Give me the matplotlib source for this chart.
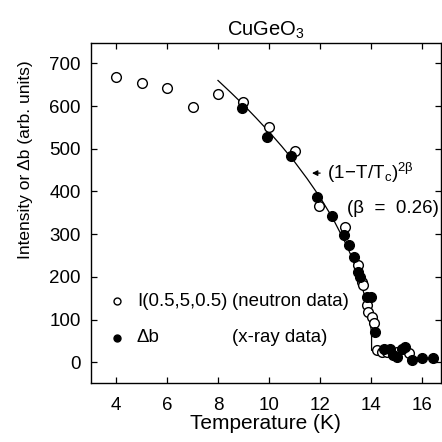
import matplotlib
matplotlib.use("Agg")
import matplotlib.pyplot as plt

plt.rcParams["font.family"] = ["Liberation Sans", "DejaVu Sans"]
plt.rcParams["mathtext.default"] = "regular"

# neutron data, I(0.5,5,0.5)  (open circles)
neutron_t = [4.0, 5.0, 6.0, 7.0, 8.0, 9.0, 10.0, 11.03, 11.97, 13.0, 13.49,
             13.65, 13.71, 13.84, 13.9, 14.04, 14.14, 14.24, 14.43, 14.63,
             15.02, 15.48]
neutron_i = [668, 654, 643, 597, 628, 609, 551, 494, 365, 317, 227,
             188, 180, 133, 118, 106, 91, 28, 24, 23,
             24, 21]

# x-ray data, delta b  (filled circles)
xray_t = [8.94, 9.92, 10.87, 11.9, 12.47, 12.96, 13.15, 13.35, 13.51, 13.58,
          13.84, 14.01, 14.17, 14.5, 14.76, 14.89, 15.02, 15.22, 15.35, 15.6,
          16.0, 16.46]
xray_db = [596, 528, 482, 387, 342, 298, 274, 247, 211, 200,
           153, 153, 71, 32, 32, 18, 12, 32, 36, 5,
           9, 9]

# power-law fit curve
fit_t = [8.0, 8.5, 9.0, 9.5, 10.0, 10.5, 11.0, 11.5, 12.0, 12.5, 13.0,
         13.3, 13.6, 13.8, 13.95, 14.03, 14.03, 14.35]
fit_v = [660, 632, 603, 572, 540, 506, 470, 430, 387, 338, 280,
         240, 189, 146, 100, 70, 28, 26]

fig = plt.figure(figsize=(4.42, 4.42), dpi=100)
ax = fig.add_axes([0.205, 0.134, 0.793, 0.769])

ax.plot(fit_t, fit_v, "-", color="black", lw=0.9, zorder=2)
ax.plot(neutron_t, neutron_i, "o", mfc="white", mec="black", mew=1.0,
        ms=7, zorder=3)
ax.plot(xray_t, xray_db, "o", color="black", ms=7, zorder=4)

# legend drawn by hand, like the original
ax.plot([4.04], [143], "o", mfc="white", mec="black", mew=1.0, ms=5)
ax.plot([4.04], [58], "o", color="black", ms=5)
ax.text(4.82, 143, "I(0.5,5,0.5)", fontsize=13.4, va="center")
ax.text(8.54, 143, "(neutron data)", fontsize=13.4, va="center")
ax.text(4.82, 58, "\u0394b", fontsize=13.4, va="center")
ax.text(8.54, 58, "(x-ray data)", fontsize=13.4, va="center")

# fit label with arrow
ax.annotate("", xy=(11.58, 443), xytext=(12.12, 443),
            arrowprops=dict(arrowstyle="-|>", color="black", lw=0.9,
                            mutation_scale=8))
ax.text(12.29, 443, r"$(1\!-\!T/T_c)^{2\beta}$", fontsize=13.5, va="center")
ax.text(13.07, 361, "(\u03b2  =  0.26)", fontsize=13.5, va="center")

ax.set_xlim(3, 16.76)
ax.set_ylim(-48, 748)
ax.set_xticks(range(4, 17, 2))
ax.set_yticks(range(0, 701, 100))
ax.tick_params(direction="in", top=True, right=True, length=4, width=0.9,
               labelsize=13.5)
ax.tick_params(axis="x", pad=10.5)
ax.tick_params(axis="y", pad=7)
for s in ax.spines.values():
    s.set_linewidth(1.0)

ax.set_xlabel("Temperature (K)", fontsize=15, labelpad=0)
ax.set_ylabel("Intensity or \u0394b (arb. units)", fontsize=12.5)
ax.yaxis.set_label_coords(-0.165, 0.655)
ax.set_title(r"CuGeO$_3$", fontsize=14.5, pad=5)

fig.savefig("out.png", dpi=100)
